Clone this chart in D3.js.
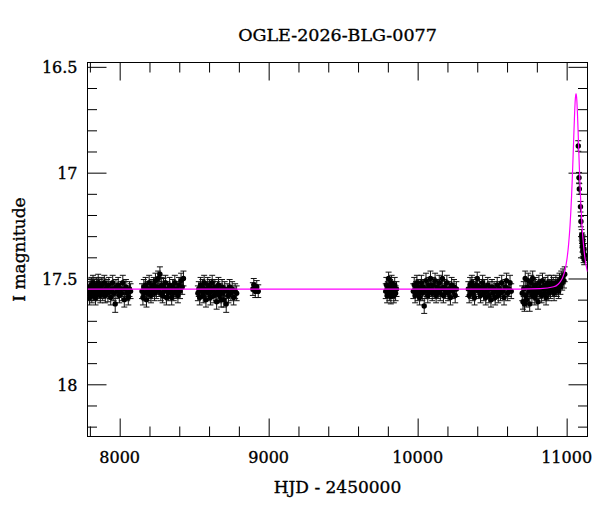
<!DOCTYPE html>
<html><head><meta charset="utf-8">
<script src="https://cdn.jsdelivr.net/npm/d3@7"></script>
<style>body{margin:0;background:#fff}</style>
</head><body>
<svg id="chart" width="600" height="512"></svg>
<script>
const titleText = "OGLE-2026-BLG-0077";
const xLabelText = "HJD - 2450000";
const yLabelText = "I magnitude";

const xMajorTicks = [8000, 9000, 10000, 11000];
const xTickLabels = ["8000", "9000", "10000", "11000"];
const xMinorTicks = [7800, 8200, 8400, 8600, 8800, 9200, 9400, 9600, 9800, 10200, 10400, 10600, 10800, 11200];
const yMajorTicks = [16.5, 17, 17.5, 18];
const yTickLabels = ["16.5", "17", "17.5", "18"];
const yMinorTicks = [16.6, 16.7, 16.8, 16.9, 17.1, 17.2, 17.3, 17.4, 17.6, 17.7, 17.8, 17.9, 18.1, 18.2];

// [HJD-2450000, I mag, error]
const season1 = [[7791,17.57,.035],[7795,17.55,.035],[7798,17.59,.035],[7802,17.54,.035],[7806,17.56,.03],[7810,17.53,.035],[7813,17.58,.035],[7817,17.55,.035],[7821,17.52,.035],[7825,17.57,.035],[7830,17.54,.035],[7834,17.56,.035],[7838,17.59,.035],[7843,17.53,.035],[7847,17.55,.035],[7852,17.57,.035],[7856,17.52,.04],[7861,17.56,.035],[7866,17.54,.035],[7870,17.58,.035],[7875,17.55,.035],[7880,17.53,.035],[7886,17.57,.035],[7891,17.56,.035],[7897,17.52,.035],[7903,17.58,.035],[7909,17.55,.035],[7915,17.54,.035],[7921,17.57,.04],[7927,17.53,.035],[7934,17.56,.035],[7940,17.59,.035],[7947,17.55,.035],[7953,17.52,.035],[7960,17.57,.035],[7970,17.62,.04],[7975,17.54,.035],[7982,17.56,.035],[7990,17.53,.035],[7998,17.58,.035],[8006,17.55,.035],[8014,17.57,.035],[8021,17.52,.035],[8031,17.60,.035],[8035,17.55,.035],[8042,17.54,.035],[8050,17.57,.035],[8058,17.59,.035],[8066,17.55,.035],[8073,17.56,.035]];
const season2 = [[8150,17.56,.035],[8156,17.59,.035],[8162,17.54,.035],[8168,17.57,.035],[8174,17.53,.035],[8180,17.60,.035],[8186,17.55,.035],[8192,17.57,.035],[8198,17.52,.035],[8204,17.56,.035],[8210,17.58,.035],[8216,17.54,.035],[8222,17.55,.035],[8228,17.53,.035],[8234,17.57,.035],[8240,17.51,.035],[8246,17.56,.035],[8252,17.54,.035],[8258,17.50,.035],[8264,17.55,.035],[8270,17.48,.035],[8276,17.57,.035],[8282,17.53,.035],[8288,17.58,.035],[8294,17.54,.04],[8300,17.56,.035],[8307,17.52,.035],[8314,17.59,.035],[8321,17.55,.035],[8328,17.57,.035],[8335,17.53,.035],[8342,17.56,.035],[8349,17.59,.035],[8356,17.54,.035],[8363,17.57,.035],[8370,17.52,.035],[8377,17.56,.035],[8384,17.55,.035],[8391,17.58,.035],[8398,17.53,.035],[8405,17.56,.035],[8412,17.51,.035],[8420,17.54,.035],[8428,17.50,.035]];
const season3 = [[8525,17.57,.035],[8531,17.55,.035],[8537,17.59,.035],[8543,17.53,.035],[8549,17.56,.035],[8555,17.54,.035],[8561,17.58,.035],[8567,17.52,.035],[8573,17.56,.035],[8579,17.60,.035],[8585,17.55,.035],[8591,17.53,.035],[8597,17.57,.035],[8603,17.54,.035],[8609,17.59,.035],[8615,17.56,.035],[8621,17.52,.035],[8627,17.55,.035],[8633,17.58,.035],[8639,17.54,.035],[8645,17.57,.035],[8651,17.61,.035],[8657,17.55,.035],[8663,17.53,.035],[8669,17.58,.035],[8675,17.56,.035],[8681,17.60,.035],[8687,17.54,.035],[8693,17.57,.035],[8699,17.60,.035],[8705,17.55,.035],[8715,17.62,.04],[8722,17.56,.035],[8730,17.58,.035],[8738,17.54,.035],[8746,17.57,.035],[8755,17.55,.035],[8765,17.59,.035],[8775,17.56,.035],[8785,17.57,.035]];
const season4 = [[8894,17.55,.03],[8900,17.53,.03],[8910,17.56,.03],[8920,17.54,.03],[8930,17.56,.03]];
const season5 = [[9786,17.56,.035],[9790,17.53,.035],[9795,17.58,.035],[9800,17.55,.035],[9805,17.50,.03],[9810,17.57,.035],[9815,17.54,.035],[9820,17.585,.035],[9825,17.52,.035],[9830,17.56,.035],[9835,17.55,.035],[9840,17.58,.035],[9846,17.53,.035],[9852,17.57,.035],[9858,17.55,.035]];
const season6 = [[9971,17.56,.035],[9977,17.53,.035],[9983,17.58,.035],[9989,17.55,.035],[9995,17.52,.035],[10001,17.57,.035],[10007,17.54,.035],[10013,17.59,.035],[10019,17.55,.035],[10025,17.52,.035],[10031,17.57,.035],[10037,17.54,.035],[10044,17.63,.035],[10050,17.56,.035],[10056,17.51,.035],[10062,17.55,.035],[10068,17.58,.035],[10074,17.53,.035],[10080,17.56,.035],[10086,17.50,.035],[10092,17.55,.035],[10098,17.57,.035],[10104,17.53,.035],[10110,17.56,.035],[10117,17.51,.035],[10124,17.58,.035],[10131,17.54,.035],[10138,17.56,.035],[10145,17.52,.035],[10152,17.57,.035],[10159,17.55,.035],[10166,17.50,.035],[10173,17.58,.035],[10180,17.54,.035],[10188,17.56,.035],[10196,17.52,.035],[10204,17.57,.035],[10212,17.55,.035],[10220,17.59,.035],[10228,17.53,.035],[10236,17.56,.035],[10244,17.54,.035],[10252,17.58,.035],[10260,17.55,.035]];
const season7 = [[10340,17.55,.035],[10346,17.58,.035],[10352,17.53,.035],[10358,17.56,.035],[10364,17.52,.035],[10370,17.57,.035],[10376,17.54,.035],[10382,17.59,.035],[10388,17.55,.035],[10394,17.53,.035],[10400,17.50,.03],[10408,17.56,.035],[10415,17.54,.035],[10422,17.58,.035],[10429,17.55,.035],[10436,17.52,.035],[10443,17.57,.035],[10450,17.54,.035],[10457,17.59,.035],[10464,17.56,.035],[10471,17.53,.035],[10478,17.58,.035],[10485,17.55,.035],[10492,17.60,.035],[10499,17.54,.035],[10506,17.57,.035],[10513,17.55,.035],[10520,17.59,.035],[10527,17.56,.035],[10534,17.53,.035],[10541,17.58,.035],[10548,17.55,.035],[10556,17.57,.035],[10564,17.52,.035],[10572,17.56,.035],[10580,17.59,.035],[10588,17.54,.035],[10596,17.51,.035],[10604,17.57,.035],[10612,17.55,.035],[10620,17.52,.035],[10628,17.56,.035]];
const season8 = [[10702,17.57,.035],[10707,17.61,.035],[10712,17.55,.035],[10717,17.62,.035],[10722,17.50,.035],[10727,17.58,.035],[10732,17.60,.035],[10737,17.54,.035],[10742,17.51,.035],[10747,17.56,.035],[10752,17.62,.035],[10757,17.55,.035],[10762,17.52,.035],[10767,17.58,.035],[10772,17.50,.035],[10777,17.56,.035],[10782,17.54,.035],[10787,17.59,.035],[10792,17.53,.035],[10797,17.57,.035],[10802,17.55,.035],[10808,17.61,.035],[10814,17.52,.035],[10820,17.56,.035],[10826,17.54,.035],[10832,17.58,.035],[10838,17.51,.035],[10844,17.55,.035],[10850,17.57,.035],[10856,17.53,.035],[10862,17.59,.035],[10868,17.55,.035],[10874,17.52,.035],[10880,17.57,.035],[10886,17.54,.035],[10892,17.56,.035],[10898,17.52,.035],[10904,17.55,.035],[10910,17.53,.035],[10916,17.57,.035],[10922,17.54,.035],[10928,17.52,.035],[10934,17.55,.035],[10940,17.53,.035],[10946,17.56,.035],[10952,17.51,.035],[10958,17.54,.035],[10964,17.50,.035],[10970,17.52,.035],[10976,17.49,.035],[10982,17.51,.035],[10987,17.48,.035]];
const peakPoints = [[11078,16.874,.025],[11083,17.024,.025],[11085,17.077,.025],[11093,17.161,.025],[11096,17.231,.025],[11101,17.294,.025],[11103,17.31,.025],[11105,17.33,.025],[11106,17.35,.025],[11108,17.32,.025],[11109,17.37,.025],[11110,17.34,.025],[11112,17.38,.025],[11114,17.40,.025],[11116,17.36,.025],[11118,17.41,.025],[11121,17.39,.025]];

// microlensing model curve
const modelT   = [7784, 10699, 10823, 10913, 10943, 10958, 10973, 10988, 11003, 11013, 11023, 11028, 11033, 11038, 11043, 11048, 11053, 11058, 11063, 11068, 11073, 11078, 11083, 11088, 11093, 11098, 11103, 11113, 11123, 11135, 11140];
const modelMag = [17.55, 17.55, 17.548, 17.539, 17.527, 17.515, 17.496, 17.463, 17.404, 17.340, 17.247, 17.185, 17.112, 17.026, 16.929, 16.826, 16.728, 16.654, 16.626, 16.654, 16.728, 16.826, 16.929, 17.026, 17.112, 17.185, 17.247, 17.340, 17.404, 17.453, 17.468];

const svg = d3.select("#chart");
const FONT = "'DejaVu Serif', serif";
const L = 87.5, R = 587.5, T = 62.5, B = 436.5;
const x = d3.scaleLinear().domain([7784, 11140]).range([L, R]);
const y = d3.scaleLinear().domain([16.4795, 18.2466]).range([T, B]);

svg.append("rect").attr("width", 600).attr("height", 512).attr("fill", "#fff");

svg.append("defs").append("clipPath").attr("id", "clip")
  .append("rect").attr("x", L).attr("y", T).attr("width", R - L).attr("height", B - T);

// Ticks via d3 axes (inward on all four sides)
function drawAxis(gen, tx, ty) {
  const g = svg.append("g").attr("transform", `translate(${tx},${ty})`).call(gen);
  g.select(".domain").remove();
  g.selectAll("text").remove();
  g.selectAll("line").attr("stroke", "#000").attr("stroke-width", 1);
  return g;
}
const xMinorIn = xMinorTicks.filter(v => x(v) >= L && x(v) <= R);
drawAxis(d3.axisBottom(x).tickValues(xMajorTicks).tickSize(-18), 0, B);
drawAxis(d3.axisBottom(x).tickValues(xMinorIn).tickSize(-10), 0, B);
drawAxis(d3.axisTop(x).tickValues(xMajorTicks).tickSize(-18), 0, T);
drawAxis(d3.axisTop(x).tickValues(xMinorIn).tickSize(-10), 0, T);
drawAxis(d3.axisLeft(y).tickValues(yMajorTicks).tickSize(-19), L, 0);
drawAxis(d3.axisLeft(y).tickValues(yMinorTicks).tickSize(-9.5), L, 0);
drawAxis(d3.axisRight(y).tickValues(yMajorTicks).tickSize(-19), R, 0);
drawAxis(d3.axisRight(y).tickValues(yMinorTicks).tickSize(-9.5), R, 0);

// frame
svg.append("rect").attr("x", L).attr("y", T).attr("width", R - L).attr("height", B - T)
  .attr("fill", "none").attr("stroke", "#000").attr("stroke-width", 1);

function styleText(s, size) {
  return s.attr("font-family", FONT).attr("font-size", size).attr("fill", "#000")
    .attr("stroke", "#000").attr("stroke-width", 0.35);
}
// tick labels
styleText(svg.append("g").selectAll("text").data(xMajorTicks).join("text")
  .attr("x", d => x(d)).attr("y", 463.3).attr("text-anchor", "middle"), 16)
  .text((d, i) => xTickLabels[i]);
styleText(svg.append("g").selectAll("text").data(yMajorTicks).join("text")
  .attr("x", 77.5).attr("y", d => y(d) + 6.5).attr("text-anchor", "end"), 16)
  .text((d, i) => yTickLabels[i]);

// titles
styleText(svg.append("text").attr("x", (L + R) / 2).attr("y", 41).attr("text-anchor", "middle"), 17.5)
  .text(titleText);
styleText(svg.append("text").attr("x", (L + R) / 2).attr("y", 492.7).attr("text-anchor", "middle"), 17)
  .text(xLabelText);
styleText(svg.append("text").attr("transform", `translate(25,${(T + B) / 2}) rotate(-90)`).attr("text-anchor", "middle"), 17)
  .text(yLabelText);

// data
const allPoints = [].concat(season1, season2, season3, season4, season5, season6, season7, season8, peakPoints);
const plot = svg.append("g").attr("clip-path", "url(#clip)");
const eb = plot.append("g").attr("stroke", "#111").attr("stroke-width", 1).attr("fill", "none");
eb.selectAll("line.v").data(allPoints).join("line").attr("class", "v")
  .attr("x1", d => x(d[0])).attr("x2", d => x(d[0]))
  .attr("y1", d => y(d[1] - d[2])).attr("y2", d => y(d[1] + d[2]));
eb.selectAll("line.t").data(allPoints).join("line").attr("class", "t")
  .attr("x1", d => x(d[0]) - 3).attr("x2", d => x(d[0]) + 3)
  .attr("y1", d => y(d[1] - d[2])).attr("y2", d => y(d[1] - d[2]));
eb.selectAll("line.b").data(allPoints).join("line").attr("class", "b")
  .attr("x1", d => x(d[0]) - 3).attr("x2", d => x(d[0]) + 3)
  .attr("y1", d => y(d[1] + d[2])).attr("y2", d => y(d[1] + d[2]));
plot.append("g").selectAll("circle").data(allPoints).join("circle")
  .attr("cx", d => x(d[0])).attr("cy", d => y(d[1])).attr("r", 2.7).attr("fill", "#000");

// model
const modelData = modelT.map((t, i) => [t, modelMag[i]]);
plot.append("path").datum(modelData)
  .attr("d", d3.line().x(d => x(d[0])).y(d => y(d[1])).curve(d3.curveMonotoneX))
  .attr("fill", "none").attr("stroke", "#ff00ff").attr("stroke-width", 1.2);
</script>
</body></html>
